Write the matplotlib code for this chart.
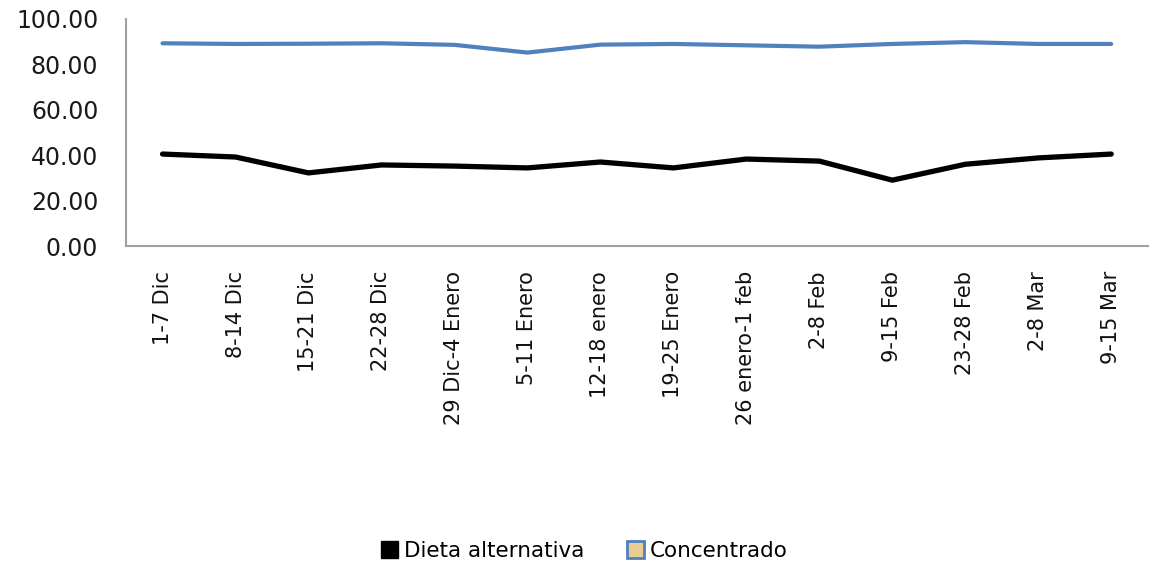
import matplotlib.pyplot as plt
from matplotlib.patches import Patch

semanas = ["1-7 Dic", "8-14 Dic", "15-21 Dic", "22-28 Dic", "29 Dic-4 Enero",
           "5-11 Enero", "12-18 enero", "19-25 Enero", "26 enero-1 feb",
           "2-8 Feb", "9-15 Feb", "23-28 Feb", "2-8 Mar", "9-15 Mar"]
dieta_alternativa = [40.5, 39.2, 32.2, 35.7, 35.2, 34.4, 37.0, 34.4, 38.3,
                     37.4, 29.0, 36.0, 38.8, 40.5]
concentrado = [89.3, 89.0, 89.1, 89.3, 88.6, 85.2, 88.7, 89.0, 88.4,
               87.8, 89.0, 89.8, 89.0, 89.0]
y_ticks = [0, 20, 40, 60, 80, 100]

fig = plt.figure(figsize=(11.5, 5.65), dpi=100)
ax = fig.add_axes([0.1096, 0.5646, 0.8884, 0.4018])

x = list(range(len(semanas)))
ax.plot(x, dieta_alternativa, color="black", linewidth=3.8, solid_capstyle="round")
ax.plot(x, concentrado, color="#4f81bd", linewidth=3.0, solid_capstyle="round")

ax.set_xlim(-0.5, len(semanas) - 0.5)
ax.set_ylim(0, 100)
ax.set_yticks(y_ticks)
ax.set_yticklabels([f"{v:.2f}" for v in y_ticks], fontsize=17, color="#1a1a1a")
ax.set_xticks(x)
ax.set_xticklabels(semanas, rotation=90, fontsize=15, color="#111111",
                   ha="center", va="top")
ax.tick_params(axis="y", length=0, pad=20)
ax.tick_params(axis="x", length=0, pad=18)

for s in ["top", "right"]:
    ax.spines[s].set_visible(False)
for s in ["left", "bottom"]:
    ax.spines[s].set_color("#a0a0a0")
    ax.spines[s].set_linewidth(1.5)

handles = [Patch(facecolor="black", edgecolor="black", label="Dieta alternativa"),
           Patch(facecolor="#e8cc90", edgecolor="#4f81bd", linewidth=2, label="Concentrado")]
fig.legend(handles=handles, loc="center", bbox_to_anchor=(0.508, 0.025), ncol=2,
           frameon=False, fontsize=15.5, handlelength=0.8, handleheight=0.8,
           handletextpad=0.25, columnspacing=2.0)

fig.savefig("out.png", dpi=100)
